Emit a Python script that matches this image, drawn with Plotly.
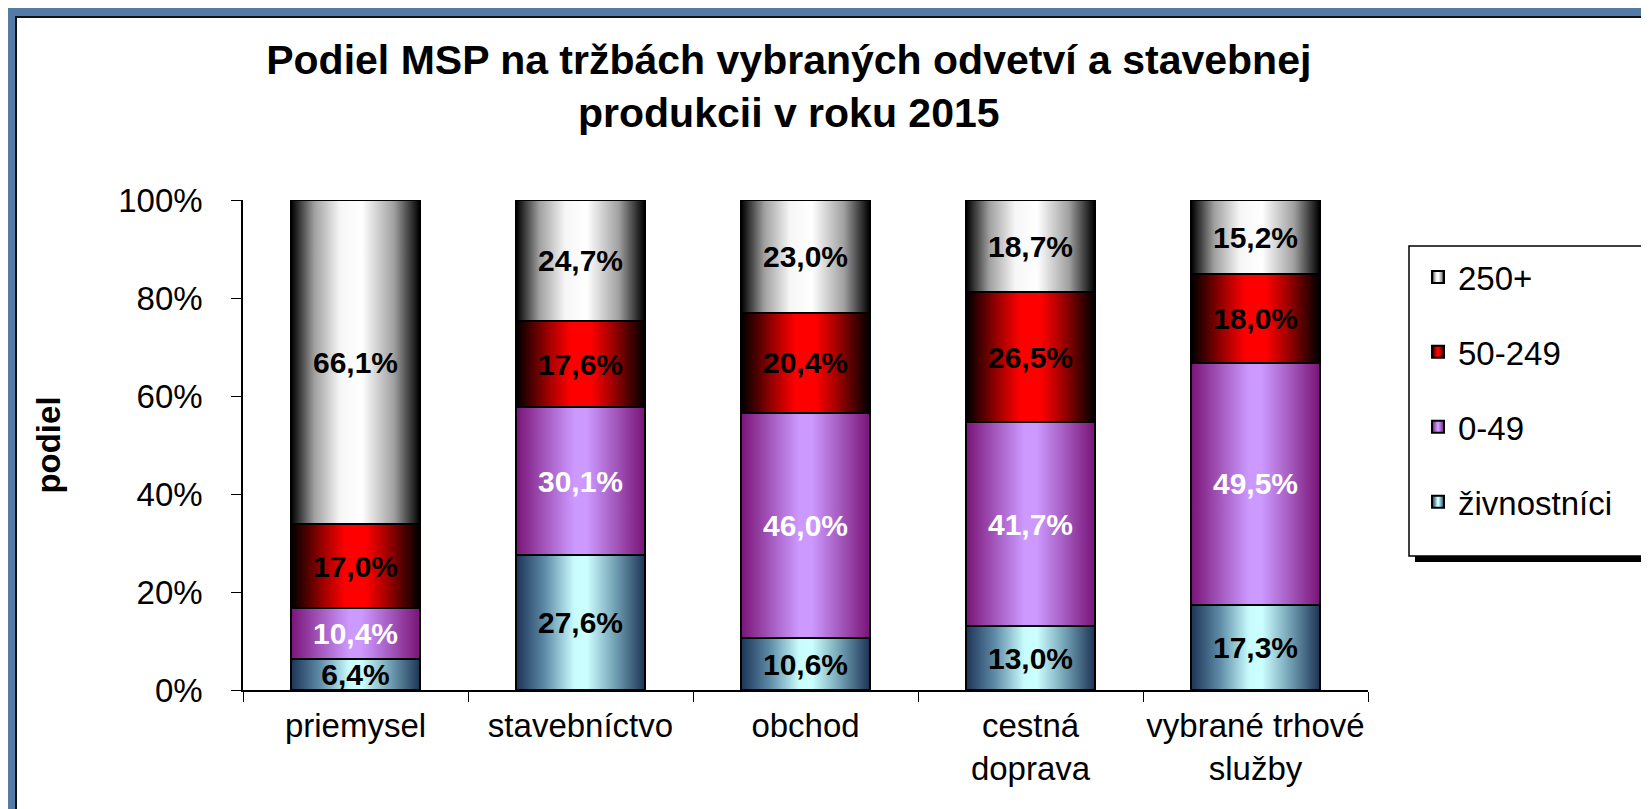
import plotly.graph_objects as go

# ---------------- data ----------------
categories = ["priemysel", "stavebníctvo", "obchod", "cestná<br>doprava", "vybrané trhové<br>služby"]
series_names = ["živnostníci", "0-49", "50-249", "250+"]
zivnostnici = [6.4, 27.6, 10.6, 13.0, 17.3]
mikro_0_49 = [10.4, 30.1, 46.0, 41.7, 49.5]
stredne_50_249 = [17.0, 17.6, 20.4, 26.5, 18.0]
velke_250 = [66.1, 24.7, 23.0, 18.7, 15.2]
y_ticks = [0, 20, 40, 60, 80, 100]
y_tick_labels = ["0%", "20%", "40%", "60%", "80%", "100%"]

series_values = [zivnostnici, mikro_0_49, stredne_50_249, velke_250]
# base (solid) colours; replaced by gradients in the page
base_colors = ["rgb(150, 205, 215)", "rgb(176, 112, 224)", "rgb(224, 0, 0)", "rgb(200, 200, 200)"]
text_colors = ["black", "white", "black", "black"]
legend_ranks = [4, 3, 2, 1]

FONT = "Liberation Sans, Arial, sans-serif"
W, H = 1649, 809
L, R, T, B = 235, 1360, 192, 682


def px_x(p):
    return (p - L) / (R - L)


def px_y(p):
    return (B - p) / (B - T)


fig = go.Figure()
for name, vals, col, tcol, rk in zip(series_names, series_values, base_colors, text_colors, legend_ranks):
    fig.add_trace(go.Bar(
        x=categories, y=vals, name=name, width=0.57,
        marker=dict(color=col, line=dict(color="black", width=2)),
        texttemplate="%{y:.1f}%", textposition="inside", insidetextanchor="middle",
        textangle=0, constraintext="none",
        insidetextfont=dict(family=FONT, size=30, color=tcol, weight="bold"),
        legendgroup=name, legendrank=rk,
    ))

shapes = [
    # white chart area with dark edge
    dict(type="rect", xref="paper", yref="paper", layer="below",
         x0=px_x(8), x1=px_x(1680), y0=px_y(840), y1=px_y(9),
         fillcolor="white", line=dict(color="#111", width=2)),
    # legend shadow
    dict(type="rect", xref="paper", yref="paper", layer="above",
         x0=px_x(1407), x1=px_x(1650), y0=px_y(554), y1=px_y(244),
         fillcolor="black", line=dict(width=0)),
    # legend box
    dict(type="rect", xref="paper", yref="paper", layer="above",
         x0=px_x(1401), x1=px_x(1645), y0=px_y(548), y1=px_y(238),
         fillcolor="white", line=dict(color="black", width=1.5)),
]

fig.update_layout(
    width=W, height=H, autosize=False,
    margin=dict(l=L, r=W - R, t=T, b=H - B, pad=0, autoexpand=False),
    paper_bgcolor="#537ba6", plot_bgcolor="rgba(0,0,0,0)",
    barmode="stack", separators=", ",
    font=dict(family=FONT, size=33, color="black"),
    title=dict(text="<b>Podiel MSP na tržbách vybraných odvetví a stavebnej<br>produkcii v roku 2015</b>",
               x=800 / W, xanchor="center", xref="paper", y=1 - 66 / H, yanchor="top", yref="container",
               font=dict(family=FONT, size=41, color="black")),
    shapes=shapes,
    showlegend=True,
    legend=dict(x=px_x(1410), xanchor="left", y=px_y(241), yanchor="top",
                bgcolor="rgba(0,0,0,0)", borderwidth=0,
                traceorder="grouped", tracegroupgap=29,
                font=dict(family=FONT, size=33, color="black")),
    uniformtext=dict(minsize=30, mode="show"),
)
fig.update_xaxes(showline=True, linecolor="black", linewidth=1.5, ticks="outside", ticklen=10,
                 tickcolor="black", tickson="boundaries", showgrid=False, tickangle=0, automargin=False,
                 tickfont=dict(family=FONT, size=33, color="black"), ticklabelstandoff=6)
fig.update_yaxes(range=[0, 100], tickmode="array", tickvals=y_ticks, ticktext=y_tick_labels,
                 showline=True, linecolor="black", automargin=False,
                 linewidth=1.5, ticks="outside", ticklen=10, tickcolor="black", showgrid=False,
                 zeroline=False, tickfont=dict(family=FONT, size=33, color="black"), ticklabelstandoff=22,
                 title=dict(text="<b>podiel</b>", font=dict(family=FONT, size=33, color="black"), standoff=48))

post = """
var gd = document.getElementById('{plot_id}');
var grads = {
  'rgb(150,205,215)': [['0','#1d3557'],['0.22','#5d8aa6'],['0.45','#c8fcfc'],['0.55','#ccffff'],['0.78','#6e9cb0'],['1','#1d3557']],
  'rgb(176,112,224)': [['0','#7a1478'],['0.25','#a85fc4'],['0.45','#cc99ff'],['0.55','#cc99ff'],['0.75','#a85fc4'],['1','#7a1478']],
  'rgb(224,0,0)': [['0','#000000'],['0.25','#a00000'],['0.42','#ff0000'],['0.58','#ff0000'],['0.75','#a00000'],['1','#000000']],
  'rgb(200,200,200)': [['0','#000000'],['0.18','#a0a0a0'],['0.38','#f6f6f6'],['0.55','#ffffff'],['0.8','#a0a0a0'],['1','#000000']]
};
var ns = 'http://www.w3.org/2000/svg';
var svg = gd.querySelectorAll('svg.main-svg')[0];
var defs = svg.querySelector('defs');
var ids = {};
var k = 0;
for (var key in grads) {
  var g = document.createElementNS(ns, 'linearGradient');
  var id = 'barGrad' + k; k++;
  g.setAttribute('id', id);
  g.setAttribute('x1','0'); g.setAttribute('y1','0'); g.setAttribute('x2','1'); g.setAttribute('y2','0');
  grads[key].forEach(function(s){
    var st = document.createElementNS(ns, 'stop');
    st.setAttribute('offset', s[0]); st.setAttribute('stop-color', s[1]);
    g.appendChild(st);
  });
  defs.appendChild(g);
  ids[key] = id;
}
gd.querySelectorAll('path').forEach(function(p){
  var f = (p.style.fill || '').replace(/\\s/g,'');
  if (ids[f]) { p.style.fill = 'url(#' + ids[f] + ')'; }
});
"""

fig.write_html("out.html", post_script=post)
